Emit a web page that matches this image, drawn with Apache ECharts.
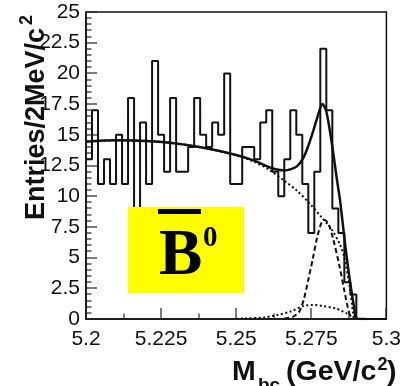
<!DOCTYPE html>
<html>
<head>
<meta charset="utf-8">
<script src="https://cdn.jsdelivr.net/npm/echarts@6/dist/echarts.min.js"></script>
<style>
  html, body { margin: 0; padding: 0; background: #fff; }
  #chart { width: 404px; height: 386px; }
</style>
</head>
<body>
<div id="chart"></div>
<script>
// Mbc histogram: 50 bins of 2 MeV from 5.20 to 5.30 GeV/c^2
const HIST_MIN = 5.2;
const BIN_WIDTH = 0.002;
const counts = [
  13, 17, 11, 13, 11, 15, 11, 18, 8, 16,
  11, 21, 15, 12, 18, 12, 12, 14, 18, 15,
  14, 16, 15, 20, 11, 11, 14, 14, 13, 16,
  17, 12, 10, 13, 17, 15, 11, 7, 12, 22,
  17, 9, 7, 3, 2, 0, 0, 0, 0, 0
];

// Fit components sampled along Mbc: [mass, entries]
const totalFit = [
  [5.200, 14.44], [5.210, 14.55], [5.220, 14.50], [5.230, 14.30], [5.240, 13.90],
  [5.250, 13.36], [5.256, 12.90], [5.2606, 12.40], [5.2635, 12.17], [5.2660, 12.10],
  [5.2680, 12.18], [5.2703, 12.45], [5.2723, 13.10], [5.2737, 13.90], [5.2755, 15.20],
  [5.2770, 16.40], [5.2787, 17.50], [5.2800, 16.90], [5.2819, 14.20], [5.2835, 11.40],
  [5.2846, 9.60], [5.2862, 6.20], [5.2878, 3.20], [5.2893, 0.87], [5.2900, 0.05],
  [5.2930, 0.00]
];
const backgroundFit = [
  [5.200, 14.44], [5.210, 14.55], [5.220, 14.50], [5.230, 14.30], [5.240, 13.90],
  [5.250, 13.33], [5.256, 12.80], [5.2606, 12.20], [5.2658, 11.30], [5.2700, 10.50],
  [5.2744, 9.42], [5.2787, 8.20], [5.2819, 7.25], [5.2846, 6.03], [5.2862, 4.80],
  [5.2878, 2.60], [5.2889, 0.46], [5.2892, 0.00]
];
const signalFit = [
  [5.2660, 0.05], [5.2690, 0.20], [5.2710, 0.60], [5.2725, 1.60], [5.2740, 3.20],
  [5.2755, 4.90], [5.2770, 6.70], [5.2785, 7.90], [5.2795, 8.06], [5.2808, 7.70],
  [5.2823, 6.50], [5.2843, 4.40], [5.2860, 2.30], [5.2872, 0.90], [5.2880, 0.20],
  [5.2885, 0.00]
];
const peakingFit = [
  [5.2500, 0.02], [5.2530, 0.05], [5.2594, 0.13], [5.2636, 0.33], [5.2680, 0.60],
  [5.2723, 1.06], [5.2755, 1.14], [5.2787, 1.06], [5.2830, 0.87], [5.2868, 0.46],
  [5.2884, 0.20], [5.2895, 0.00]
];

// Axis divisions: major step and number of sub-divisions per step
const xTicks = { min: 5.2, max: 5.3, interval: 0.025, sub: 2 };
const yTicks = { min: 0, max: 25, interval: 2.5, sub: 5 };

// Histogram outline: one point per bin low edge, closing at the upper edge
const histData = counts.map((c, i) => [+(HIST_MIN + i * BIN_WIDTH).toFixed(3), c]);
histData.push([+(HIST_MIN + counts.length * BIN_WIDTH).toFixed(3), counts[counts.length - 1]]);

// Tick positions as [x, y, isMajor] rows for the inward tick marks
function tickRows(t, along) {
  const rows = [];
  const steps = Math.round((t.max - t.min) / t.interval) * t.sub;
  for (let k = 0; k <= steps; k++) {
    const v = +(t.min + k * t.interval / t.sub).toFixed(6);
    const major = k % t.sub === 0 ? 1 : 0;
    rows.push(along === 'x' ? [v, yTicks.min, major] : [xTicks.min, v, major]);
  }
  return rows;
}
const xTickRows = tickRows(xTicks, 'x');
const yTickRows = tickRows(yTicks, 'y');

const ink = '#111';
const tickInk = '#222';
const MAJOR_LEN = 11, MINOR_LEN = 5.5;
const chart = echarts.init(document.getElementById('chart'), null, { renderer: 'canvas' });

function tickRenderer(vertical) {
  return function (params, api) {
    const p = api.coord([api.value(0), api.value(1)]);
    const len = api.value(2) ? MAJOR_LEN : MINOR_LEN;
    const shape = vertical
      ? { x: Math.round(p[0]) - 0.6, y: p[1] - len, width: 1.2, height: len }
      : { x: p[0], y: Math.round(p[1]) - 0.6, width: len, height: 1.2 };
    return { type: 'rect', shape: shape, style: { fill: tickInk } };
  };
}

const axisCommon = {
  type: 'value',
  axisLine: { show: true, onZero: false, lineStyle: { color: ink, width: 1.5 } },
  axisTick: { show: false },
  splitLine: { show: false },
  axisLabel: { fontFamily: 'Liberation Sans', fontSize: 21, color: ink }
};

const graphicEls = [
  // axis titles
  {
    type: 'text', x: 50, y: 220, rotation: Math.PI / 2, z: 50,
    style: { text: 'Entries/2MeV/c', font: 'bold 27px "Liberation Sans"', fill: ink,
             textAlign: 'left', textVerticalAlign: 'bottom' }
  },
  {
    type: 'text', x: 36.5, y: 25, rotation: Math.PI / 2, z: 50,
    style: { text: '2', font: 'bold 18px "Liberation Sans"', fill: ink,
             textAlign: 'left', textVerticalAlign: 'bottom' }
  },
  {
    type: 'text', x: 232, y: 387, z: 50,
    style: { text: 'M', font: 'bold 28.5px "Liberation Sans"', fill: ink,
             textAlign: 'left', textVerticalAlign: 'bottom' }
  },
  {
    type: 'text', x: 258, y: 395, z: 50,
    style: { text: 'bc', font: 'bold 19px "Liberation Sans"', fill: ink,
             textAlign: 'left', textVerticalAlign: 'bottom' }
  },
  {
    type: 'text', x: 286, y: 387, z: 50,
    style: { text: '(GeV/c', font: 'bold 28.5px "Liberation Sans"', fill: ink,
             textAlign: 'left', textVerticalAlign: 'bottom' }
  },
  {
    type: 'text', x: 377.5, y: 374, z: 50,
    style: { text: '2', font: 'bold 18px "Liberation Sans"', fill: ink,
             textAlign: 'left', textVerticalAlign: 'bottom' }
  },
  {
    type: 'text', x: 387, y: 387, z: 50,
    style: { text: ')', font: 'bold 28.5px "Liberation Sans"', fill: ink,
             textAlign: 'left', textVerticalAlign: 'bottom' }
  },
  // B-bar zero label box
  {
    type: 'rect', z: 60,
    shape: { x: 128, y: 207, width: 116, height: 86 },
    style: { fill: '#ffff00' }
  },
  {
    type: 'rect', z: 61,
    shape: { x: 158, y: 209, width: 43, height: 5 },
    style: { fill: '#000' }
  },
  {
    type: 'text', x: 159, y: 225, z: 61,
    style: { text: 'B', font: 'bold 65px "Liberation Serif"', fill: '#000',
             textAlign: 'left', textVerticalAlign: 'top' }
  },
  {
    type: 'text', x: 203, y: 224, z: 61,
    style: { text: '0', font: 'bold 29px "Liberation Serif"', fill: '#000',
             textAlign: 'left', textVerticalAlign: 'top' }
  }
];

chart.setOption({
  animation: false,
  backgroundColor: '#fff',
  grid: {
    left: 86, right: 7, top: 12, bottom: 67,
    show: true, borderColor: ink, borderWidth: 1.5, backgroundColor: 'transparent'
  },
  xAxis: Object.assign({}, axisCommon, {
    min: xTicks.min, max: xTicks.max, interval: xTicks.interval,
    axisLabel: Object.assign({}, axisCommon.axisLabel, { margin: 10 })
  }),
  yAxis: Object.assign({}, axisCommon, {
    min: yTicks.min, max: yTicks.max, interval: yTicks.interval,
    axisLabel: Object.assign({}, axisCommon.axisLabel, { margin: 6 })
  }),
  series: [
    {
      name: 'data', type: 'line', step: 'end', data: histData,
      symbol: 'none', z: 2,
      lineStyle: { color: ink, width: 2 }
    },
    {
      name: 'background', type: 'line', data: backgroundFit, smooth: 0.3,
      symbol: 'none', z: 3,
      lineStyle: { color: ink, width: 2, type: [2, 2.5] }
    },
    {
      name: 'peaking', type: 'line', data: peakingFit, smooth: 0.3,
      symbol: 'none', z: 3,
      lineStyle: { color: ink, width: 2, type: [2, 2.5] }
    },
    {
      name: 'signal', type: 'line', data: signalFit, smooth: 0.3,
      symbol: 'none', z: 3,
      lineStyle: { color: ink, width: 2, type: [5, 3] }
    },
    {
      name: 'total', type: 'line', data: totalFit, smooth: 0.3,
      symbol: 'none', z: 4,
      lineStyle: { color: ink, width: 2.5 }
    },
    {
      name: 'xTicks', type: 'custom', data: xTickRows, z: 5, silent: true, clip: false,
      renderItem: tickRenderer(true)
    },
    {
      name: 'yTicks', type: 'custom', data: yTickRows, z: 5, silent: true, clip: false,
      renderItem: tickRenderer(false)
    }
  ],
  graphic: graphicEls
});
</script>
</body>
</html>
